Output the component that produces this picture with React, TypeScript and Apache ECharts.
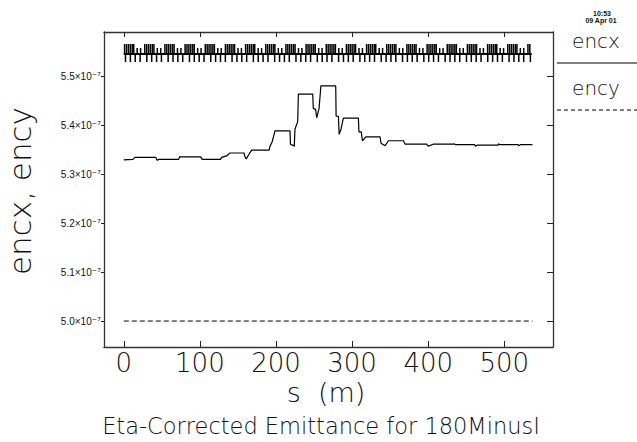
import React, { useEffect, useRef } from "react";
import * as echarts from "echarts";

// encx (units of 1e-7 m): position s (m) and value
const encxS = [0, 12, 14.5, 42, 44, 46, 72, 73.7, 75, 101, 103, 127, 128.5, 135, 139.5, 158, 159, 161, 163.5, 168, 191, 192, 195, 198.7, 218.4, 219, 223, 224, 225, 228.5, 229.4, 248.3, 249, 252, 253.5, 256.6, 259, 278.5, 279, 282, 283, 285.5, 288.5, 308.3, 309, 312, 313.6, 318, 336.8, 338, 343.4, 347.8, 367.5, 369.7, 398, 400, 406.5, 433, 434, 436, 461, 462, 464, 492, 492.5, 494, 518, 519, 521, 537];
const encxV = [5.329, 5.330, 5.334, 5.334, 5.328, 5.330, 5.330, 5.336, 5.335, 5.335, 5.330, 5.330, 5.334, 5.337, 5.343, 5.343, 5.336, 5.331, 5.338, 5.349, 5.349, 5.356, 5.366, 5.388, 5.388, 5.361, 5.358, 5.357, 5.392, 5.407, 5.463, 5.463, 5.434, 5.432, 5.415, 5.434, 5.480, 5.480, 5.418, 5.418, 5.381, 5.392, 5.414, 5.414, 5.386, 5.386, 5.368, 5.376, 5.376, 5.363, 5.358, 5.368, 5.368, 5.361, 5.361, 5.357, 5.361, 5.361, 5.362, 5.360, 5.360, 5.357, 5.359, 5.359, 5.362, 5.360, 5.360, 5.358, 5.360, 5.360];

// ency (units of 1e-7 m)
const encyS = [0, 537];
const encyV = [5.0, 5.0];

// lattice strip (element positions in m)
const latticeLevel = 5.545;
const latticeS = [0, 536];
const upTallS = [
  1, 3.5, 6, 8.5, 11, 13, 27.5, 30, 32.5, 35, 37.5, 39.5, 54, 56.5, 59, 61.5, 64, 66,
  80.5, 83, 85.5, 88, 90.5, 92.5, 107, 109.5, 112, 114.5, 117, 119,
  133.5, 136, 138.5, 141, 143.5, 145.5, 160, 162.5, 165, 167.5, 170, 172,
  186.5, 189, 191.5, 194, 196.5, 198.5, 213, 215.5, 218, 220.5, 223, 225,
  239.5, 242, 244.5, 247, 249.5, 251.5, 266, 268.5, 271, 273.5, 276, 278,
  292.5, 295, 297.5, 300, 302.5, 304.5, 319, 321.5, 324, 326.5, 329, 331,
  345.5, 348, 350.5, 353, 355.5, 357.5, 372, 374.5, 377, 379.5, 382, 384,
  398.5, 401, 403.5, 406, 408.5, 410.5, 425, 427.5, 430, 432.5, 435, 437,
  451.5, 454, 456.5, 459, 461.5, 463.5, 478, 480.5, 483, 485.5, 488, 490,
  504.5, 507, 509.5, 512, 514.5, 516.5, 531, 533.5,
];
const upShortS = [
  17.5, 22, 44, 48.5, 70.5, 75, 97, 101.5, 123.5, 128, 150, 154.5, 176.5, 181,
  203, 207.5, 229.5, 234, 256, 260.5, 282.5, 287, 309, 313.5, 335.5, 340,
  362, 366.5, 388.5, 393, 415, 419.5, 441.5, 446, 468, 472.5, 494.5, 499, 521, 525.5,
];
const downS = [
  2.2, 8.6, 15, 21.4, 30.2, 36.6, 43, 49.4, 58.2, 64.6, 71, 77.4, 86.2, 92.6, 99, 105.4,
  114.2, 120.6, 127, 133.4, 142.2, 148.6, 155, 161.4, 170.2, 176.6, 183, 189.4,
  198.2, 204.6, 211, 217.4, 226.2, 232.6, 239, 245.4, 254.2, 260.6, 267, 273.4,
  282.2, 288.6, 295, 301.4, 310.2, 316.6, 323, 329.4, 338.2, 344.6, 351, 357.4,
  366.2, 372.6, 379, 385.4, 394.2, 400.6, 407, 413.4, 422.2, 428.6, 435, 441.4,
  450.2, 456.6, 463, 469.4, 478.2, 484.6, 491, 497.4, 506.2, 512.6, 519, 525.4, 534.2,
];

const xTicks = [0, 100, 200, 300, 400, 500];
const yTicks = [5.0, 5.1, 5.2, 5.3, 5.4, 5.5];
const xRange = [-26, 564];
const yRange = [4.947, 5.59];

const FONT = "DejaVu Sans";
const W = 200;

export default function App() {
  const ref = useRef<HTMLDivElement>(null);
  useEffect(() => {
    document.body.style.margin = "0";
    const chart = echarts.init(ref.current!, null, { renderer: "svg" });

    const latticeData: number[][] = [];
    upTallS.forEach((s) => latticeData.push([s, latticeLevel, 0]));
    upShortS.forEach((s) => latticeData.push([s, latticeLevel, 1]));
    downS.forEach((s) => latticeData.push([s, latticeLevel, 2]));

    const axisLine = { show: true, onZero: false, lineStyle: { color: "#333", width: 1.3 } };
    const tickStyle = { color: "#222", width: 1 };

    const option: any = {
      animation: false,
      backgroundColor: "#fff",
      grid: { left: 104, right: 84, top: 32, bottom: 95 },
      xAxis: [
        {
          type: "value", min: xRange[0], max: xRange[1], position: "bottom",
          axisLine,
          axisTick: { show: true, inside: true, length: 6, customValues: xTicks, lineStyle: tickStyle },
          axisLabel: {
            customValues: xTicks, fontSize: 26, fontFamily: FONT, fontWeight: W,
            color: "#111", margin: 3,
          },
          splitLine: { show: false },
        },
        {
          type: "value", min: xRange[0], max: xRange[1], position: "top",
          axisLine,
          axisTick: { show: true, inside: true, length: 5, customValues: xTicks, lineStyle: tickStyle },
          axisLabel: { show: false },
          splitLine: { show: false },
        },
      ],
      yAxis: [
        {
          type: "value", min: yRange[0], max: yRange[1], position: "left",
          axisLine,
          axisTick: { show: true, inside: false, length: 3, customValues: yTicks, lineStyle: tickStyle },
          axisLabel: {
            customValues: yTicks, margin: 3,
            formatter: (v: number) => `{m|${v.toFixed(1)}×10}{s|⁻⁷}`,
            rich: {
              m: { fontSize: 10, fontFamily: "Liberation Sans", color: "#111" },
              s: { fontSize: 10, fontFamily: "DejaVu Sans", color: "#111" },
            },
          },
          splitLine: { show: false },
        },
        {
          type: "value", min: yRange[0], max: yRange[1], position: "right",
          axisLine,
          axisTick: { show: true, inside: true, length: 6, customValues: yTicks, lineStyle: tickStyle },
          axisLabel: { show: false },
          splitLine: { show: false },
        },
      ],
      series: [
        {
          name: "encx", type: "line", xAxisIndex: 0, yAxisIndex: 0,
          data: encxS.map((s, i) => [s, encxV[i]]),
          showSymbol: false, symbol: "none",
          lineStyle: { color: "#000", width: 1.2 },
        },
        {
          name: "ency", type: "line", xAxisIndex: 0, yAxisIndex: 0,
          data: encyS.map((s, i) => [s, encyV[i]]),
          showSymbol: false, symbol: "none",
          lineStyle: { color: "#000", width: 1, type: [5, 3] },
        },
        {
          name: "latticeAxis", type: "line", xAxisIndex: 0, yAxisIndex: 0,
          data: latticeS.map((s) => [s, latticeLevel]),
          showSymbol: false, symbol: "none",
          lineStyle: { color: "#000", width: 2 },
        },
        {
          name: "lattice", type: "custom", xAxisIndex: 0, yAxisIndex: 0,
          data: latticeData,
          encode: { x: 0, y: 1 },
          renderItem: (params: any, api: any) => {
            const p = api.coord([api.value(0), api.value(1)]);
            const k = api.value(2);
            const h = k === 0 ? -10 : k === 1 ? -6 : 8;
            return {
              type: "rect",
              shape: { x: p[0] - 0.7, y: h < 0 ? p[1] + h : p[1], width: 1.5, height: Math.abs(h) },
              style: { fill: "#000" },
            };
          },
        },
      ],
      graphic: [
        {
          type: "text", x: 20, y: 191, rotation: Math.PI / 2,
          style: {
            text: "encx, ency", fontSize: 31, fontFamily: FONT, fontWeight: W,
            fill: "#111", align: "center", verticalAlign: "middle",
          },
        },
        {
          type: "text", x: 326, y: 392,
          style: {
            text: "s  (m)", fontSize: 27, fontFamily: FONT, fontWeight: W,
            fill: "#111", align: "center", verticalAlign: "middle",
          },
        },
        {
          type: "text", x: 321, y: 426,
          style: {
            text: "Eta-Corrected Emittance for 180MinusI", fontSize: 22.5, fontFamily: FONT, fontWeight: W,
            fill: "#111", align: "center", verticalAlign: "middle",
          },
        },
        {
          type: "text", x: 602, y: 13,
          style: { text: "10:53", fontSize: 7, fontFamily: "Liberation Sans", fontWeight: "bold", fill: "#111", align: "center", verticalAlign: "middle" },
        },
        {
          type: "text", x: 601, y: 20,
          style: { text: "09 Apr 01", fontSize: 7, fontFamily: "Liberation Sans", fontWeight: "bold", fill: "#111", align: "center", verticalAlign: "middle" },
        },
        {
          type: "text", x: 596, y: 41,
          style: { text: "encx", fontSize: 20, fontFamily: FONT, fontWeight: W, fill: "#111", align: "center", verticalAlign: "middle" },
        },
        {
          type: "line", shape: { x1: 557, y1: 63, x2: 637, y2: 63 },
          style: { stroke: "#000", lineWidth: 1.2 },
        },
        {
          type: "text", x: 596, y: 88,
          style: { text: "ency", fontSize: 20, fontFamily: FONT, fontWeight: W, fill: "#111", align: "center", verticalAlign: "middle" },
        },
        {
          type: "line", shape: { x1: 557, y1: 110, x2: 637, y2: 110 },
          style: { stroke: "#000", lineWidth: 1, lineDash: [4, 3] },
        },
      ],
    };
    chart.setOption(option);
    return () => chart.dispose();
  }, []);
  return <div ref={ref} style={{ width: 637, height: 442 }} />;
}
